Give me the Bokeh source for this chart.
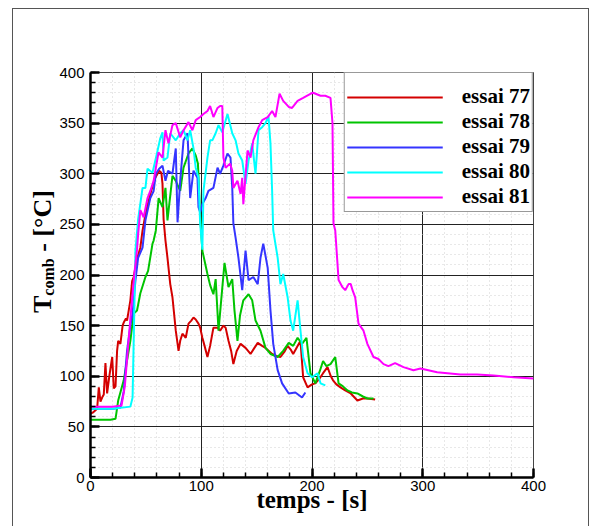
import math
from bokeh.plotting import figure
from bokeh.models import Legend, LegendItem, SingleIntervalTicker, Div
from bokeh.layouts import column
from bokeh.embed import file_html
from bokeh.resources import INLINE

# ---- data (temps [s], T_comb [°C]) ----
x77 = [0, 2, 4, 6, 7.5, 9, 10.5, 12, 13.5, 15, 17, 19.6, 21, 22.6, 24, 25, 27, 29, 30, 32, 33, 36, 37.6, 39, 42, 45, 47, 50, 54, 58, 62, 64, 65, 66, 67.7, 69.5, 72, 74, 77, 79.5, 81, 83, 86, 88.5, 91, 93, 95, 97.5, 99, 101, 103, 105.6, 108, 111, 114.7, 117, 120, 122, 124.6, 127, 129, 132, 135.5, 140, 144.5, 148, 151, 155, 158, 161, 164, 168, 171.5, 175, 178, 181, 183, 186, 189.6, 192, 196, 200, 203, 207, 210, 214, 217, 219, 222, 225.7, 230, 235, 241, 246, 250, 257]
y77 = [63, 64, 66, 68, 89, 75, 79, 82, 113, 83, 100, 119, 88, 90, 125, 135, 132, 150, 153, 157, 155, 175, 194, 198, 216, 227, 244, 262, 280, 295, 303, 301, 290, 255, 234, 217, 191, 178, 145, 125, 135, 142, 138, 152, 155, 158, 156, 152, 148, 138, 130, 119, 130, 148, 148, 145, 150, 148, 135, 125, 112, 125, 132, 128, 122, 128, 133, 130, 128, 125, 122, 120, 119, 124, 130, 126, 122, 128, 135, 99, 89, 92, 93, 98, 103, 109, 100, 96, 92, 89, 86, 83, 76, 78, 78, 77]

x78 = [0, 10, 18, 22.6, 25, 30, 36, 39, 42, 45, 49.6, 52, 56, 57, 59, 61.5, 65, 67.7, 69.5, 74, 77, 81, 84, 88.5, 92, 95, 97, 99, 101, 105.6, 108, 111, 113, 115.6, 118, 121, 124.6, 128, 130, 132.7, 135, 138, 142.7, 146, 149, 153.5, 158, 162.5, 169, 174, 179, 183, 187, 191, 195, 198.6, 203, 207, 210, 213, 216.7, 221, 224, 228, 232, 236, 241, 246, 250, 255.5]
y78 = [57, 57, 57, 58, 76, 96, 135, 162, 165, 182, 198, 204, 231, 234, 244, 276, 267, 286, 254, 298, 293, 283, 306, 320, 325, 318, 310, 260, 224, 201, 190, 181, 196, 145, 175, 212, 188, 196, 165, 135, 160, 175, 181, 175, 155, 145, 128, 122, 119, 125, 133, 130, 138, 132, 138, 103, 93, 105, 115, 110, 112, 119, 93, 90, 86, 84, 83, 80, 78, 78]

x79 = [0, 10, 20, 27, 30, 33, 36, 38, 40.6, 43, 47, 49.6, 54, 57, 59, 62, 65, 67.7, 70, 74, 77, 78.6, 81, 84, 87.6, 90, 93, 96.6, 97.5, 99, 101, 104, 106.5, 111, 114.7, 117, 120, 123.7, 126.4, 128, 129, 131, 133.6, 137, 140, 142.7, 147, 151, 153.5, 156, 160, 162.5, 165, 169, 173, 179, 185, 191, 194]
y79 = [68, 68, 68, 69, 85, 125, 150, 162, 195, 217, 227, 254, 276, 283, 300, 305, 308, 293, 303, 300, 325, 252, 293, 333, 340, 276, 303, 296, 267, 262, 270, 276, 283, 286, 306, 300, 308, 320, 316, 286, 251, 237, 217, 185, 224, 195, 198, 191, 217, 231, 207, 165, 132, 106, 93, 83, 84, 79, 84]

x80 = [0, 20, 36, 38, 40.6, 43, 47, 49.6, 51.5, 56, 60, 63, 65, 66, 69.5, 72, 77, 81, 84, 87.6, 90, 93, 95, 97.5, 99, 101, 102, 105.6, 108, 110, 113, 115.6, 119, 123.7, 128, 131, 133.6, 137, 140, 142.7, 146, 149, 151.7, 155, 158, 160.7, 162.5, 164, 165, 169, 171.5, 174, 178, 180.6, 183, 187, 189.6, 192, 196, 200, 205, 207.7, 212]
y80 = [68, 68, 70, 79, 224, 255, 286, 286, 305, 301, 320, 335, 341, 313, 316, 340, 333, 340, 343, 333, 343, 325, 306, 296, 251, 225, 283, 316, 333, 333, 340, 348, 341, 359, 340, 333, 320, 313, 290, 313, 330, 300, 343, 346, 350, 357, 330, 283, 244, 217, 191, 201, 178, 155, 145, 175, 145, 119, 103, 99, 103, 93, 91]

x81 = [0, 20, 28, 31, 34, 37, 40, 42, 43, 45, 48, 51.5, 54, 57, 61.4, 65, 67.7, 70.4, 74, 77, 81, 84, 88.5, 92, 95, 99, 102, 105.6, 108, 111, 114.7, 117, 119, 120, 122, 126, 128, 129, 132.7, 135.5, 137, 138, 141.8, 144.5, 147, 151.7, 155, 160, 164, 167, 170.7, 174, 179, 182, 187, 192, 198.6, 201, 207.7, 212, 216.7, 218.5, 219.4, 221, 224, 227.5, 230, 233, 235, 236.6, 239, 242, 246.5, 250, 255.5, 260, 264.6, 269, 275, 282.6, 291.6, 298, 313, 334, 349, 364, 382, 400]
y81 = [70, 70, 71, 90, 130, 170, 205, 225, 240, 264, 257, 276, 283, 293, 321, 316, 343, 330, 348, 350, 336, 343, 351, 343, 353, 356, 359, 362, 367, 356, 365, 367, 367, 316, 306, 310, 303, 286, 293, 280, 296, 270, 323, 316, 333, 346, 353, 356, 362, 356, 379, 372, 366, 365, 372, 375, 379, 380, 377, 377, 375, 350, 251, 244, 195, 188, 185, 191, 191, 185, 178, 152, 145, 132, 119, 117, 112, 110, 113, 109, 106, 107.6, 104, 101.7, 101.7, 100.7, 99, 97.8]

series_names = ["essai 77", "essai 78", "essai 79", "essai 80", "essai 81"]
series_x = [x77, x78, x79, x80, x81]
series_y = [y77, y78, y79, y80, y81]
series_colors = ["#d40000", "#00c400", "#3535ff", "#00ffff", "#ff00ff"]

x_label = "temps - [s]"
y_label_main = "T"
y_label_sub = "comb"
y_label_rest = " - [°C]"

SANS = "Liberation Sans"
SERIF = "Liberation Serif"

p = figure(width=577, height=518, x_range=(0, 400), y_range=(0, 400),
           output_backend="svg", toolbar_location=None,
           min_border_left=77, min_border_right=57, min_border_top=63, min_border_bottom=50)
p.styles = {"border": "1px solid #555", "border-bottom": "none",
            "margin-left": "12px", "margin-top": "8px"}
p.background_fill_color = "white"
p.border_fill_color = "white"
p.outline_line_color = "#444"
p.outline_line_width = 1

p.xaxis.ticker = SingleIntervalTicker(interval=100, num_minor_ticks=5)
p.yaxis.ticker = SingleIntervalTicker(interval=50, num_minor_ticks=5)

for ax in (p.xaxis, p.yaxis):
    ax.axis_line_width = 2.5
    ax.axis_line_color = "black"
    ax.major_tick_in = 9
    ax.major_tick_out = 0
    ax.major_tick_line_width = 2.5
    ax.minor_tick_in = 5
    ax.minor_tick_out = 0
    ax.minor_tick_line_width = 1.5
    ax.major_label_text_font = SANS
    ax.major_label_text_font_size = "15px"
    ax.major_label_text_color = "black"
p.xaxis.major_label_standoff = 3
p.yaxis.major_label_standoff = 6

p.xaxis.axis_label = x_label
p.xaxis.axis_label_text_font = SERIF
p.xaxis.axis_label_text_font_style = "bold"
p.xaxis.axis_label_text_font_size = "25px"
p.xaxis.axis_label_text_color = "black"
p.xaxis.axis_label_standoff = -8

for g in (p.xgrid, p.ygrid):
    g.grid_line_color = "#222"
    g.grid_line_width = 1
    g.minor_grid_line_color = "#d0d0d0"
    g.minor_grid_line_dash = "1 3"
    g.minor_grid_line_width = 1

renderers = []
for xs, ys, c in zip(series_x, series_y, series_colors):
    r = p.line(xs, ys, line_color=c, line_width=2)
    renderers.append(r)

legend = Legend(items=[LegendItem(label=n, renderers=[r]) for n, r in zip(series_names, renderers)],
                location="top_right", margin=0, padding=2, spacing=0,
                glyph_width=96, glyph_height=20, label_height=25, label_standoff=19,
                label_text_font=SERIF, label_text_font_style="bold", label_text_font_size="21px",
                label_text_color="black",
                title=" ", title_text_font_size="7.5px", title_standoff=0,
                border_line_color="#333", border_line_width=1.5,
                background_fill_color="white", background_fill_alpha=1)
p.add_layout(legend)

# y-axis title with a subscript: real HTML text, rotated, laid over the left margin
ytitle_html = (
    '<span style="font-family:\'Liberation Serif\';font-weight:bold;font-size:26px;'
    'line-height:30px;white-space:nowrap;color:black">'
    + y_label_main
    + '<span style="font-size:16px;position:relative;top:3px">' + y_label_sub + '</span>'
    + y_label_rest.replace(" ", "&nbsp;", 1)
    + '</span>'
)
ytitle = Div(text=ytitle_html,
             styles={"position": "absolute", "left": "28px", "top": "313px",
                     "transform": "rotate(-90deg)", "transform-origin": "0 0",
                     "line-height": "30px", "white-space": "nowrap", "margin": "0", "padding": "0"})

layout = column(p, ytitle)
open("out.html", "w").write(file_html(layout, INLINE))
